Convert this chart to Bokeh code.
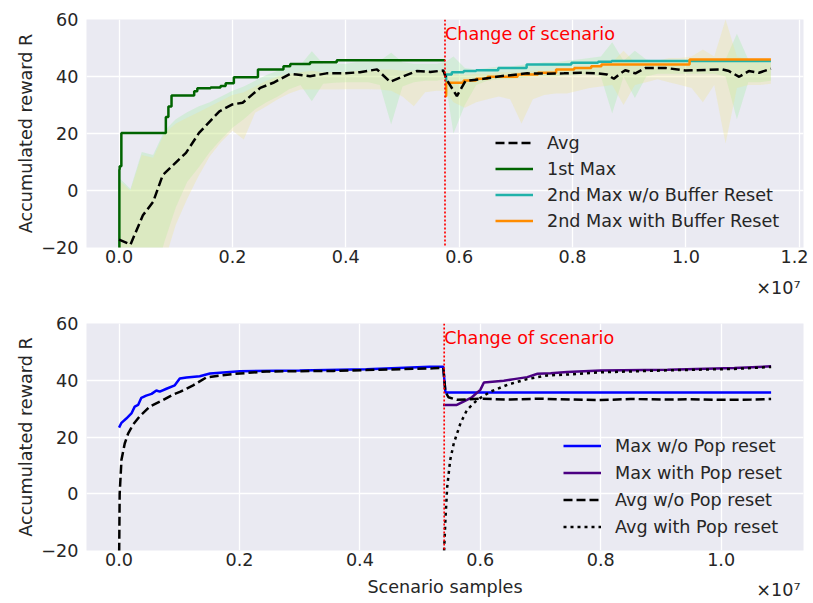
import numpy as np
from bokeh.plotting import figure
from bokeh.models import (Span, Label, Legend, LegendItem, FixedTicker, Title,
                          PrintfTickFormatter, CustomJSTickFormatter, Range1d)
from bokeh.layouts import column
from bokeh.embed import file_html
from bokeh.resources import INLINE

FONT = "DejaVu Sans"
TXT = "#262626"
FS = "17.6px"

# ---------------- data (x in units of 1e7 scenario samples) ----------------
# top panel
change_top = 0.575
max1_x = [0.0, 0.0005, 0.001, 0.004, 0.0825, 0.087, 0.0925, 0.1325, 0.138, 0.1615,
          0.179, 0.188, 0.2025, 0.245, 0.29, 0.302, 0.337, 0.384, 0.575]
max1_y = [-30, 7.4, 8.5, 20.2, 25.8, 29.5, 33.3, 34.8, 35.9, 36.1,
          36.7, 37.6, 39.7, 42.5, 43.6, 44.4, 45.0, 45.7, 45.7]

max2_nobuf_x = [0.575, 0.577, 0.587, 0.608, 0.63, 0.669, 0.719, 0.798, 0.845, 0.869, 1.15]
max2_nobuf_y = [38.4, 40.7, 41.5, 41.9, 42.2, 43.0, 44.2, 44.8, 45.2, 45.4, 45.4]

max2_buf_x = [0.575, 0.577, 0.608, 0.63, 0.65, 0.703, 0.739, 0.771, 0.803, 0.833, 0.851, 1.0065, 1.15]
max2_buf_y = [33.1, 37.8, 38.6, 39.2, 39.9, 40.7, 41.3, 42.5, 43.0, 43.6, 44.2, 46.0, 46.0]

avg_top_x = [0.0, 0.02, 0.042, 0.06, 0.077, 0.118, 0.141, 0.177, 0.2, 0.218, 0.249, 0.272,
             0.302, 0.313, 0.337, 0.366, 0.396, 0.425, 0.455, 0.478, 0.502, 0.525, 0.549, 0.572,
             0.578, 0.596, 0.611, 0.643, 0.673, 0.72, 0.755, 0.785, 0.814, 0.844, 0.861, 0.873,
             0.882, 0.893, 0.911, 0.929, 0.964, 0.999, 1.064, 1.076, 1.094, 1.111, 1.129, 1.15]
avg_top_y = [-17.2, -19.0, -8.7, -4.0, 5.4, 13.2, 20.2, 27.8, 30.2, 30.8, 36.0, 37.8,
             40.9, 40.7, 40.1, 41.1, 41.1, 41.5, 42.5, 38.1, 40.1, 41.9, 41.6, 42.1,
             38.9, 33.1, 38.4, 39.2, 40.1, 41.1, 41.0, 41.1, 41.3, 41.1, 40.7, 39.2,
             40.7, 42.2, 41.1, 43.0, 43.0, 42.1, 42.5, 41.9, 39.9, 41.9, 41.3, 42.7]

band_x = [0.0, 0.02, 0.04, 0.06, 0.08, 0.10, 0.12, 0.14, 0.16, 0.18, 0.20, 0.22, 0.24, 0.26,
          0.28, 0.30, 0.32, 0.34, 0.36, 0.38, 0.40, 0.42, 0.44, 0.46, 0.48, 0.50, 0.52, 0.54,
          0.56,
          0.575, 0.59, 0.61, 0.63, 0.65, 0.67, 0.69, 0.71, 0.73, 0.75, 0.77, 0.79, 0.81, 0.83,
          0.85, 0.87, 0.89, 0.91, 0.93, 0.95, 0.97, 0.99, 1.01, 1.03, 1.05, 1.07, 1.09, 1.11,
          1.13, 1.15]
band_nobuf_hi = [4.5, 0.5, 13.5, 12.5, 21, 25, 27.5, 29.5, 31, 33, 35, 36.5, 38.5, 40.5,
                 42, 43.5, 44, 48.9, 44.5, 44.5, 44.5, 45, 45, 45.5, 48.3, 45, 44.5, 44.5,
                 44.5,
                 45, 47, 43, 42.5, 43, 43.5, 43.5, 44, 44.5, 45, 45, 45.5, 46, 46.5,
                 47, 52, 45.5, 49, 46, 45.5, 45.5, 45.5, 45.5, 46, 46, 46, 55, 46, 45, 45]
band_nobuf_lo = [-45, -45, -40, -32, -18, -6, 3, 8, 13.5, 18, 22, 25, 28.5, 31,
                 33, 35.5, 37, 31.3, 37.5, 37.8, 38, 38, 38, 37, 23.2, 36.5, 38, 38.5,
                 38.5,
                 39, 20, 30, 37, 38.5, 39, 39, 39.5, 40, 40, 40, 40.5, 40.5, 41,
                 40, 27, 40, 32.5, 40, 41, 41, 41, 41, 41, 41, 40, 25, 38, 38, 38.5]
band_buf_hi = [3.5, 0, 12.5, 11.5, 20, 23.5, 25.5, 27.5, 29.5, 31.5, 33.5, 34.5, 36.5, 38.5,
               40, 41, 41.5, 42, 41.5, 41.5, 41.5, 42, 42, 42.5, 42.5, 42, 42, 42,
               42,
               42, 41, 40.5, 41, 41, 41.5, 41.5, 41.5, 42, 42, 42.5, 43, 43, 43.5,
               44, 45, 49, 45, 45, 45.5, 46.5, 46.5, 47, 49.5, 47, 60, 47, 46, 45, 45]
band_buf_lo = [-45, -45, -45, -38, -25, -12, -3, 5, 12, 17, 21, 17.9, 27.3, 29.6,
               32, 34, 35.4, 35.4, 35.4, 35.4, 35.5, 35.5, 35.5, 35.4, 35, 33, 29.6, 34.5,
               35,
               35, 31, 29, 31, 32, 33, 32, 23.5, 32, 33.5, 34, 34, 35, 36,
               36.5, 37, 30, 37, 38, 39, 38, 37, 36, 31, 37, 16.5, 36, 37, 37, 37.5]

# bottom panel
change_bot = 0.54
max_nopop_x = [0.0, 0.004, 0.012, 0.0205, 0.026, 0.0316, 0.037, 0.045, 0.054, 0.062, 0.0676,
               0.0787, 0.0925, 0.1008, 0.112, 0.134, 0.151, 0.2006, 0.30, 0.411, 0.516, 0.5385,
               0.542, 0.6, 0.8, 1.0, 1.083]
max_nopop_y = [23.3, 25.0, 26.5, 28.3, 30.7, 31.3, 33.8, 34.6, 35.2, 36.4, 36.0,
               37.0, 38.2, 40.6, 41.0, 41.4, 42.4, 43.2, 43.4, 43.9, 44.8, 44.8,
               35.7, 35.7, 35.7, 35.7, 35.7]

max_pop_x = [0.538, 0.561, 0.572, 0.586, 0.6, 0.606, 0.639, 0.656, 0.678, 0.695, 0.717,
             0.744, 0.8, 0.911, 1.022, 1.083]
max_pop_y = [31.3, 31.3, 32.5, 34.0, 36.6, 39.2, 39.8, 40.4, 41.1, 42.3, 42.5,
             42.9, 43.4, 43.7, 44.3, 44.9]

avg_nopop_x = [0.0, 0.001, 0.004, 0.0094, 0.015, 0.023, 0.034, 0.051, 0.073, 0.09, 0.101,
               0.123, 0.145, 0.189, 0.245, 0.356, 0.522, 0.5385, 0.542, 0.547, 0.561,
               0.6, 0.65, 0.7, 0.75, 0.8, 0.85, 0.9, 0.95, 1.0, 1.05, 1.083]
avg_nopop_y = [-25, 0.0, 12.0, 17.7, 21.2, 24.3, 27.2, 30.7, 33.0, 35.0, 35.9,
               38.2, 41.0, 42.2, 43.1, 43.3, 44.2, 44.4, 36.0, 34.0, 33.1,
               33.5, 33.2, 33.5, 33.2, 33.0, 33.4, 33.2, 33.3, 33.1, 33.2, 33.4]

avg_pop_x = [0.5395, 0.54, 0.542, 0.545, 0.55, 0.556, 0.567, 0.578, 0.595, 0.617, 0.645,
             0.678, 0.711, 0.744, 0.8, 0.911, 1.022, 1.083]
avg_pop_y = [-25, -19.4, -9.4, 2.4, 11.9, 17.8, 24.8, 29.6, 33.1, 36.0, 38.4,
             40.4, 41.7, 42.0, 42.8, 43.5, 44.0, 44.7]

x_ticks_top = [0.0, 0.2, 0.4, 0.6, 0.8, 1.0, 1.2]
x_ticks_bot = [0.0, 0.2, 0.4, 0.6, 0.8, 1.0]
y_ticks = [-20, 0, 20, 40, 60]

Y_LABEL = "Accumulated reward R"
X_LABEL = "Scenario samples"
SCI_LABEL = "\u00d710\u2077"
CHANGE_LABEL = "Change of scenario"


# ---------------- helpers ----------------
def style_axis(ax):
    ax.axis_line_color = None
    ax.major_tick_line_color = None
    ax.minor_tick_line_color = None
    ax.major_tick_out = 0
    ax.major_tick_in = 0
    ax.minor_tick_out = 0
    ax.minor_tick_in = 0
    ax.major_label_text_font = FONT
    ax.major_label_text_font_size = FS
    ax.major_label_text_color = TXT
    ax.axis_label_text_font = FONT
    ax.axis_label_text_font_size = FS
    ax.axis_label_text_color = TXT
    ax.axis_label_text_font_style = "normal"


def make_fig(height, xr, xticks, border_top, border_bottom):
    p = figure(width=808, height=height, output_backend="svg", toolbar_location=None,
               x_range=Range1d(*xr), y_range=Range1d(-20, 60),
               min_border_left=86, min_border_right=5,
               min_border_top=border_top, min_border_bottom=border_bottom)
    p.background_fill_color = "#EAEAF2"
    p.border_fill_color = "white"
    p.outline_line_color = None
    style_axis(p.xaxis[0])
    style_axis(p.yaxis[0])
    p.xaxis.ticker = FixedTicker(ticks=xticks)
    p.xaxis.formatter = PrintfTickFormatter(format="%.1f")
    p.yaxis.ticker = FixedTicker(ticks=y_ticks)
    p.yaxis.formatter = CustomJSTickFormatter(
        code="return tick < 0 ? '\u2212' + Math.abs(tick).toFixed(0) : tick.toFixed(0);")
    p.xaxis.major_label_standoff = 2
    p.yaxis.major_label_standoff = 8
    p.yaxis.axis_label = Y_LABEL
    p.yaxis.axis_label_standoff = 2
    p.xgrid.grid_line_color = "white"
    p.ygrid.grid_line_color = "white"
    p.xgrid.grid_line_width = 1.3
    p.ygrid.grid_line_width = 1.3
    return p


def decorate(p, change_x):
    p.add_layout(Span(location=change_x, dimension="height", line_color="red",
                      line_dash="2 2", line_width=1.7))
    p.add_layout(Label(x=change_x, y=60, y_offset=-14, text=CHANGE_LABEL,
                       text_color="red", text_font=FONT, text_font_size=FS,
                       text_baseline="alphabetic", text_align="left"))


def sci_title(p, standoff, valign):
    t = Title(text=SCI_LABEL, align="right", standoff=standoff, offset=3,
              vertical_align=valign,
              text_font=FONT, text_font_size=FS, text_font_style="normal",
              text_color=TXT)
    p.add_layout(t, "below")


def legend(p, items, loc, spacing):
    lg = Legend(items=[LegendItem(label=l, renderers=[r]) for l, r in items],
                location=loc, background_fill_alpha=0, border_line_color=None,
                padding=0, margin=0, spacing=spacing, glyph_width=38,
                glyph_height=21, label_height=21, label_standoff=14,
                label_text_font=FONT, label_text_font_size=FS,
                label_text_color=TXT)
    p.add_layout(lg)


# ---------------- top panel ----------------
p1 = make_fig(313, (-0.0575, 1.2075), x_ticks_top, 19, 66)
p1.varea(x=band_x, y1=band_nobuf_lo, y2=band_nobuf_hi,
         fill_color="lightgreen", fill_alpha=0.25)
p1.varea(x=band_x, y1=band_buf_lo, y2=band_buf_hi,
         fill_color="khaki", fill_alpha=0.3)
r_max1 = p1.step(max1_x, max1_y, mode="after", line_color="#006400", line_width=2.5)
r_nobuf = p1.step(max2_nobuf_x, max2_nobuf_y, mode="after", line_color="#20B2AA", line_width=2.5)
r_buf = p1.step(max2_buf_x, max2_buf_y, mode="after", line_color="#FF8C00", line_width=2.5)
r_avg = p1.line(avg_top_x, avg_top_y, line_color="black", line_width=2.5, line_dash="9 4")
decorate(p1, change_top)
sci_title(p1, 20, "bottom")
legend(p1, [("Avg", r_avg), ("1st Max", r_max1),
            ("2nd Max w/o Buffer Reset", r_nobuf),
            ("2nd Max with Buffer Reset", r_buf)], (409, 16), 5)

# ---------------- bottom panel ----------------
p2 = make_fig(290, (-0.0541, 1.1368), x_ticks_bot, 10, 53)
r_b1 = p2.line(max_nopop_x, max_nopop_y, line_color="#0000FF", line_width=2.5)
r_b2 = p2.line(max_pop_x, max_pop_y, line_color="#4B0082", line_width=2.5)
r_b3 = p2.line(avg_nopop_x, avg_nopop_y, line_color="black", line_width=2.5, line_dash="9 4")
r_b4 = p2.line(avg_pop_x, avg_pop_y, line_color="black", line_width=2.5, line_dash="3 4")
decorate(p2, change_bot)
p2.xaxis.axis_label = X_LABEL
p2.xaxis.axis_label_standoff = 8
sci_title(p2, -40, "top")
legend(p2, [("Max w/o Pop reset", r_b1), ("Max with Pop reset", r_b2),
            ("Avg w/o Pop reset", r_b3), ("Avg with Pop reset", r_b4)], (477, 13), 6)

layout = column(p1, p2, spacing=0)
open("out.html", "w").write(file_html(layout, INLINE))
